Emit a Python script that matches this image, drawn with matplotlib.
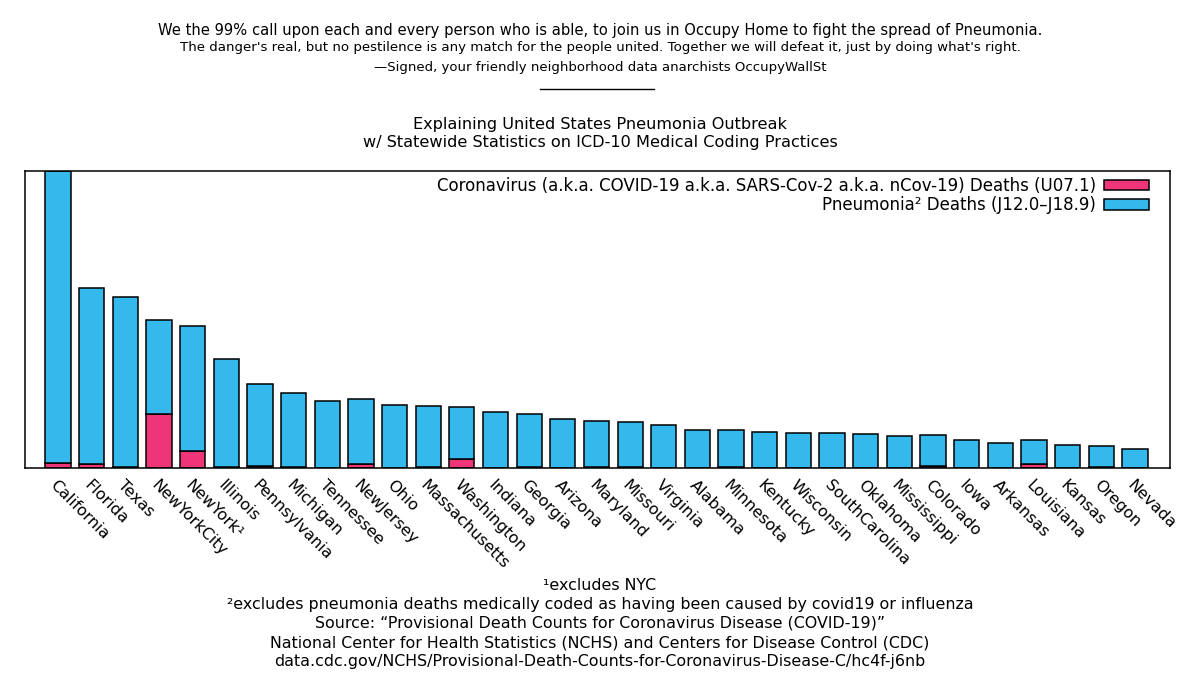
import numpy as np
import matplotlib
matplotlib.use("Agg")
import matplotlib.pyplot as plt

states = ["California", "Florida", "Texas", "NewYorkCity", "NewYork\u00b9", "Illinois",
          "Pennsylvania", "Michigan", "Tennessee", "NewJersey", "Ohio", "Massachusetts",
          "Washington", "Indiana", "Georgia", "Arizona", "Maryland", "Missouri", "Virginia",
          "Alabama", "Minnesota", "Kentucky", "Wisconsin", "SouthCarolina", "Oklahoma",
          "Mississippi", "Colorado", "Iowa", "Arkansas", "Louisiana", "Kansas", "Oregon", "Nevada"]

covid_deaths = [100, 80, 20, 1080, 340, 20, 40, 20, 10, 80, 10, 20, 180, 10, 20, 10, 20,
                20, 10, 10, 20, 10, 10, 10, 10, 10, 40, 10, 10, 80, 10, 20, 10]

pneumonia_deaths = [5840, 3520, 3400, 1880, 2500, 2160, 1640, 1480, 1330, 1300, 1250, 1220,
                    1040, 1110, 1060, 970, 920, 900, 850, 750, 740, 710, 690, 690, 670, 630,
                    620, 550, 490, 480, 450, 420, 370]

header_lines = [
    ("We the 99% call upon each and every person who is able, to join us in Occupy Home to fight the spread of Pneumonia.", 10.6),
    ("The danger's real, but no pestilence is any match for the people united. Together we will defeat it, just by doing what's right.", 9.6),
    ("\u2014Signed, your friendly neighborhood data anarchists OccupyWallSt", 9.55),
]

footer_lines = [
    "\u00b9excludes NYC",
    "\u00b2excludes pneumonia deaths medically coded as having been caused by covid19 or influenza",
    "Source: \u201cProvisional Death Counts for Coronavirus Disease (COVID-19)\u201d",
    "National Center for Health Statistics (NCHS) and Centers for Disease Control (CDC)",
    "data.cdc.gov/NCHS/Provisional-Death-Counts-for-Coronavirus-Disease-C/hc4f-j6nb",
]

PINK = "#ee3577"
BLUE = "#35b9ec"

fig = plt.figure(figsize=(12, 6.75), dpi=100)
ax = fig.add_axes([25 / 1200, 1 - 468 / 675, 1145 / 1200, 297 / 675])

x = np.arange(len(states))
covid = np.array(covid_deaths)
pneu = np.array(pneumonia_deaths)

ax.bar(x, covid, width=0.75, color=PINK, edgecolor="black", linewidth=1.1,
       label="Coronavirus (a.k.a. COVID-19 a.k.a. SARS-Cov-2 a.k.a. nCov-19) Deaths (U07.1)")
ax.bar(x, pneu, bottom=covid, width=0.75, color=BLUE, edgecolor="black", linewidth=1.1,
       label="Pneumonia\u00b2 Deaths (J12.0\u2013J18.9)")

ax.set_xlim(-0.98, len(states) - 1 + 1.04)
ax.set_ylim(0, (covid + pneu).max())
ax.set_yticks([])
ax.set_xticks(x)
ax.set_xticklabels(states, rotation=-45, ha="left", va="top", rotation_mode="anchor",
                   fontsize=11.5)
ax.tick_params(axis="x", length=0, pad=7)
for s in ax.spines.values():
    s.set_linewidth(1.1)

ax.legend(loc="upper right", frameon=False, markerfirst=False, fontsize=12,
          handlelength=2.7, handleheight=0.6, handletextpad=0.5, labelspacing=0.08,
          borderaxespad=0.1, borderpad=0.25, bbox_to_anchor=(1 - 15 / 1145, 1.0))

# header text
ys = [30, 48, 68]
for (txt, fs), y in zip(header_lines, ys):
    fig.text(0.5, 1 - y / 675, txt, ha="center", va="center", fontsize=fs)
fig.add_artist(plt.Line2D([540 / 1200, 654 / 1200], [1 - 89 / 675, 1 - 89 / 675],
                          color="black", linewidth=1))

fig.text(0.5, 1 - 125 / 675, "Explaining United States Pneumonia Outbreak",
         ha="center", va="center", fontsize=11.6)
fig.text(0.5, 1 - 143 / 675, "w/ Statewide Statistics on ICD-10 Medical Coding Practices",
         ha="center", va="center", fontsize=11.6)

# footnotes
for i, line in enumerate(footer_lines):
    fig.text(0.5, 1 - (585 + 19.2 * i) / 675, line, ha="center", va="center", fontsize=11.4)

fig.savefig("out.png", dpi=100)
